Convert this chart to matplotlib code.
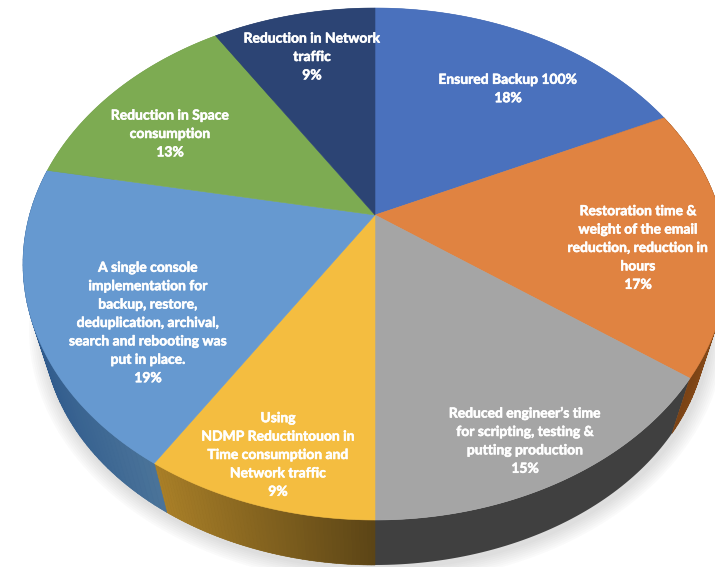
"""3D perspective pie of backup project benefits."""

import matplotlib
matplotlib.use("Agg")
import matplotlib.pyplot as plt
import matplotlib.patheffects as pe
import numpy as np
from matplotlib.collections import PolyCollection
from matplotlib.colors import to_rgb
from matplotlib.patches import Ellipse, Polygon

labels = [
    "Ensured Backup 100%",
    "Restoration time &\nweight of the email\nreduction, reduction in\nhours",
    "Reduced engineer\u2019s time\nfor scripting, testing &\nputting production",
    "Using\nNDMP Reductintouon in\nTime consumption and\nNetwork traffic",
    "A single console\nimplementation for\nbackup, restore,\ndeduplication, archival,\nsearch and rebooting was\nput in place.",
    "Reduction in Space\nconsumption",
    "Reduction in Network\ntraffic",
]
values = [18, 17, 15, 9, 19, 13, 9]
face_colors = ["#4a71bd", "#e08341", "#a5a5a5", "#f4bd40", "#6699d0", "#7dab52", "#2c4474"]
wall_left = ["#3a5a98", "#6e3c12", "#404040", "#aa8028", "#2f5a8c", "#5a7d3a", "#1f3154"]
wall_right = ["#3a5a98", "#8a4c1a", "#404040", "#5c4516", "#4a7399", "#5a7d3a", "#1f3154"]
label_xy = [(508, 89), (638, 248), (525, 441), (278, 455), (148, 323), (170, 134), (312, 57)]

CX = 375
TOP_CY, TOP_RX, TOP_RY = 264, 352, 256
BOT_CY, BOT_RX, BOT_RY = 327, 332, 238
HUB_Y = 215
K = (TOP_CY - HUB_Y) / TOP_RY


def project(pct, cy, rx, ry):
    """Percent round the pie -> pixel on a tilted circle, hub pushed back."""
    t = np.radians(np.asarray(pct) * 3.6)
    sx, sy = np.sin(t), np.cos(t)
    d = 1 + K * sy
    return CX + rx * np.sqrt(1 - K ** 2) * sx / d, cy - ry * (sy + K) / d


fig = plt.figure(figsize=(7.15, 5.67), dpi=100)
ax = fig.add_axes([0, 0, 1, 1])
ax.set_xlim(0, 715)
ax.set_ylim(567, 0)
ax.axis("off")

# soft shadow under the walls
for grow in range(16, 0, -2):
    ax.add_patch(Ellipse((CX + 2, BOT_CY + 3), 2 * (BOT_RX + grow), 2 * (BOT_RY + grow),
                         fc="#505050", ec="none", alpha=0.025, zorder=1))

edges = np.cumsum([0] + values)

# side walls, solid base first then strips for the gradient
for i, v in enumerate(values):
    pct = np.linspace(edges[i], edges[i + 1], 60)
    tx, ty = project(pct, TOP_CY, TOP_RX, TOP_RY)
    bx, by = project(pct, BOT_CY, BOT_RX, BOT_RY)
    c0, c1 = np.array(to_rgb(wall_left[i])), np.array(to_rgb(wall_right[i]))
    base = list(zip(tx, ty)) + list(zip(bx[::-1], by[::-1]))
    ax.add_patch(Polygon(base, closed=True, fc=(c0 + c1) / 2, ec="none", zorder=2))
    if wall_left[i] == wall_right[i]:
        continue
    lo, hi = tx.min(), tx.max()
    quads, cols = [], []
    for j in range(len(pct) - 1):
        quads.append([(tx[j], ty[j]), (tx[j + 1], ty[j + 1]), (bx[j + 1], by[j + 1]), (bx[j], by[j])])
        f = (tx[j] - lo) / max(hi - lo, 1)
        cols.append(c0 + (c1 - c0) * f)
    ax.add_collection(PolyCollection(quads, facecolors=cols, edgecolors=cols, linewidths=0.4, zorder=2.5))

# top faces
for i, v in enumerate(values):
    pct = np.linspace(edges[i], edges[i + 1], 80)
    x, y = project(pct, TOP_CY, TOP_RX, TOP_RY)
    pts = [(CX, HUB_Y)] + list(zip(x, y))
    ax.add_patch(Polygon(pts, closed=True, fc=face_colors[i], ec=face_colors[i], lw=0.4, zorder=3))

for name, v, (lx, ly) in zip(labels, values, label_xy):
    ax.text(lx, ly, f"{name}\n{v}%", ha="center", va="center", color="white",
            fontsize=10, fontweight="bold", family="Lato", linespacing=1.64, zorder=5,
            path_effects=[pe.withStroke(linewidth=0.4, foreground="white")])

fig.savefig("out.png", dpi=100, facecolor="white")
